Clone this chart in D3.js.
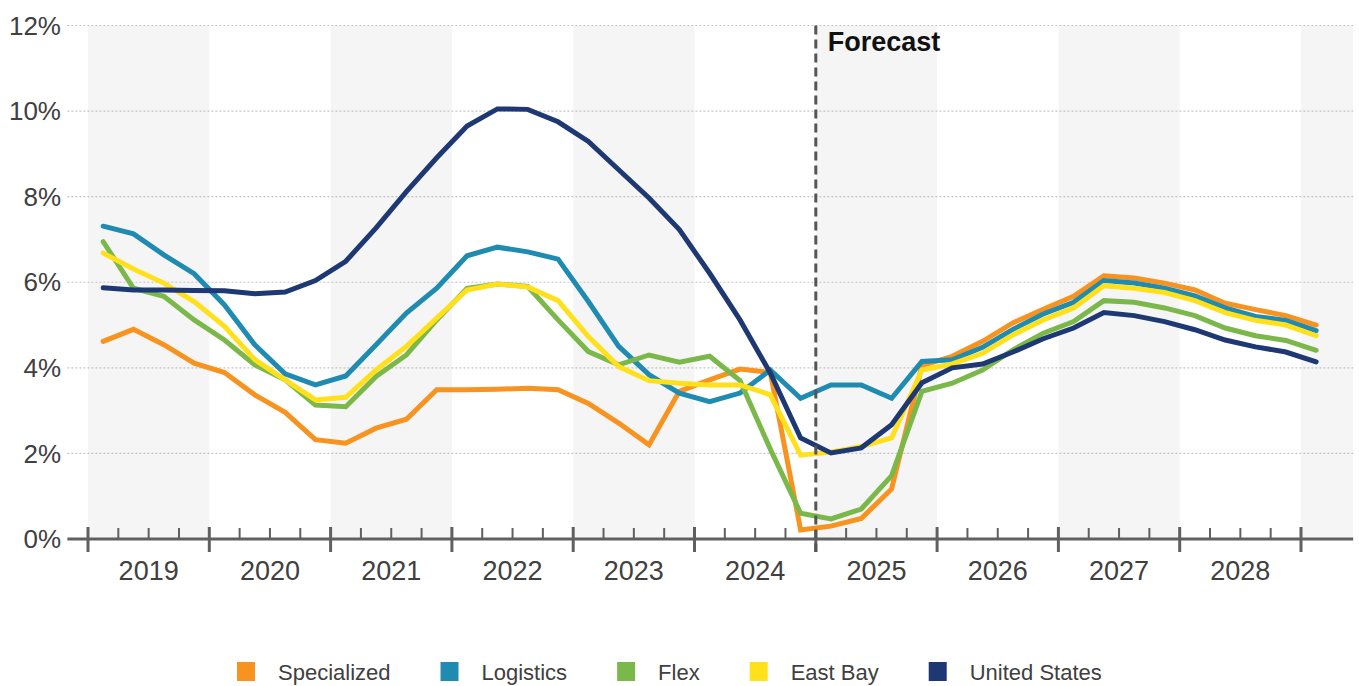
<!DOCTYPE html>
<html>
<head>
<meta charset="utf-8">
<script src="https://cdn.jsdelivr.net/npm/d3@7"></script>
<style>
  body { margin: 0; background: #fff; }
  svg text { font-family: "Liberation Sans", Arial, sans-serif; }
</style>
</head>
<body>
<svg id="chart" width="1359" height="686"></svg>
<script>
// quarterly vacancy, 2019 Q1 .. 2029 Q1
const years = [2019, 2020, 2021, 2022, 2023, 2024, 2025, 2026, 2027, 2028];
const yTicks = [0, 2, 4, 6, 8, 10, 12];
const forecastStart = 2025;

const specialized = [4.62, 4.90, 4.54, 4.11, 3.89, 3.37, 2.96, 2.32, 2.24, 2.59, 2.80, 3.49, 3.49, 3.50, 3.52, 3.49,
  3.17, 2.71, 2.20, 3.45, 3.72, 3.97, 3.89, 0.21, 0.30, 0.48, 1.17, 4.05, 4.27, 4.62, 5.05, 5.37, 5.67, 6.15,
  6.10, 5.98, 5.82, 5.51, 5.36, 5.22, 5.00];
const logistics = [7.31, 7.13, 6.64, 6.20, 5.47, 4.54, 3.86, 3.60, 3.81, 4.54, 5.28, 5.86, 6.62, 6.82, 6.71, 6.54,
  5.55, 4.50, 3.84, 3.41, 3.21, 3.41, 3.95, 3.29, 3.60, 3.60, 3.29, 4.15, 4.19, 4.48, 4.90, 5.26, 5.53, 6.04,
  5.98, 5.86, 5.68, 5.40, 5.20, 5.11, 4.87];
const flex = [6.95, 5.86, 5.67, 5.12, 4.65, 4.07, 3.72, 3.13, 3.09, 3.80, 4.30, 5.12, 5.86, 5.96, 5.90, 5.12,
  4.38, 4.07, 4.30, 4.13, 4.27, 3.70, 2.10, 0.60, 0.47, 0.70, 1.48, 3.45, 3.64, 3.95, 4.42, 4.81, 5.08, 5.57,
  5.53, 5.40, 5.22, 4.93, 4.75, 4.64, 4.41];
const eastBay = [6.68, 6.31, 5.98, 5.55, 4.97, 4.19, 3.72, 3.25, 3.31, 3.95, 4.50, 5.16, 5.82, 5.96, 5.89, 5.57,
  4.73, 4.03, 3.70, 3.64, 3.60, 3.60, 3.37, 1.96, 2.03, 2.16, 2.36, 3.95, 4.09, 4.34, 4.77, 5.12, 5.40, 5.92,
  5.86, 5.76, 5.57, 5.29, 5.11, 5.00, 4.75];
const unitedStates = [5.87, 5.82, 5.82, 5.81, 5.80, 5.73, 5.77, 6.04, 6.49, 7.27, 8.12, 8.91, 9.65, 10.05, 10.04, 9.75,
  9.29, 8.63, 7.97, 7.23, 6.21, 5.12, 3.88, 2.36, 2.01, 2.13, 2.67, 3.65, 4.00, 4.09, 4.37, 4.68, 4.93, 5.29,
  5.22, 5.08, 4.89, 4.65, 4.49, 4.37, 4.14];

const series = [
  { name: "Specialized", color: "#f7931e", values: specialized },
  { name: "Logistics", color: "#1f8bb0", values: logistics },
  { name: "Flex", color: "#7bb84a", values: flex },
  { name: "East Bay", color: "#ffe01a", values: eastBay },
  { name: "United States", color: "#1d3872", values: unitedStates }
];

const svg = d3.select("#chart");
const x = d3.scaleLinear().domain([2019, 2029]).range([88, 1301]);
const y = d3.scaleLinear().domain([0, 12]).range([539, 25.5]);
const xLeft = x(2018.83), xRight = x(2029.43);
const qx = i => x(years[0] + (i + 0.5) / 4);

// alternating year bands
const bandYears = years.concat([2029]).filter((d, i) => i % 2 === 0);
svg.append("g").selectAll("rect").data(bandYears).join("rect")
  .attr("x", d => x(d))
  .attr("width", d => Math.min(x(d + 1), xRight) - x(d))
  .attr("y", y(12))
  .attr("height", y(0) - y(12))
  .attr("fill", "#f5f5f5");

// gridlines
svg.append("g").selectAll("line").data(yTicks.filter(d => d > 0)).join("line")
  .attr("x1", xLeft).attr("x2", xRight)
  .attr("y1", d => y(d)).attr("y2", d => y(d))
  .attr("stroke", "#c4c4c4").attr("stroke-width", 1.2)
  .attr("stroke-dasharray", "2,2");

// y labels
svg.append("g").selectAll("text").data(yTicks).join("text")
  .attr("x", 61).attr("y", d => y(d))
  .attr("dy", "0.35em")
  .attr("text-anchor", "end")
  .attr("font-size", 26)
  .attr("fill", "#404040")
  .text(d => d + "%");

// x axis with quarter ticks
const axis = svg.append("g");
const quarterTicks = d3.range(0, 41).map(i => years[0] + i / 4);
axis.selectAll("line.minor").data(quarterTicks.filter(d => d % 1 !== 0)).join("line")
  .attr("class", "minor")
  .attr("x1", d => x(d)).attr("x2", d => x(d))
  .attr("y1", 528).attr("y2", 539)
  .attr("stroke", "#606060").attr("stroke-width", 2);
axis.selectAll("line.major").data(years.concat([2029])).join("line")
  .attr("class", "major")
  .attr("x1", d => x(d)).attr("x2", d => x(d))
  .attr("y1", 527).attr("y2", 552)
  .attr("stroke", "#606060").attr("stroke-width", 3);
axis.append("line")
  .attr("x1", xLeft).attr("x2", xRight)
  .attr("y1", 539).attr("y2", 539)
  .attr("stroke", "#606060").attr("stroke-width", 3);
axis.selectAll("text").data(years).join("text")
  .attr("x", d => x(d + 0.5)).attr("y", 580)
  .attr("text-anchor", "middle")
  .attr("font-size", 27)
  .attr("fill", "#404040")
  .text(d => d);

// lines
const line = d3.line().x((d, i) => qx(i)).y(d => y(d));
svg.append("g").selectAll("path").data(series).join("path")
  .attr("d", d => line(d.values))
  .attr("fill", "none")
  .attr("stroke", d => d.color)
  .attr("stroke-width", 5)
  .attr("stroke-linecap", "round");

// forecast marker
svg.append("line")
  .attr("x1", x(forecastStart)).attr("x2", x(forecastStart))
  .attr("y1", y(12)).attr("y2", 552)
  .attr("stroke", "#555").attr("stroke-width", 3)
  .attr("stroke-dasharray", "9,5");
svg.append("text")
  .attr("x", x(forecastStart) + 12).attr("y", 51)
  .attr("font-size", 27).attr("font-weight", "bold")
  .attr("fill", "#111")
  .text("Forecast");

// legend
const legend = svg.append("g").attr("transform", "translate(237,672)");
let lx = 0;
series.forEach(s => {
  const g = legend.append("g").attr("transform", `translate(${lx},0)`);
  g.append("rect").attr("x", 0).attr("y", -10).attr("width", 18).attr("height", 19).attr("fill", s.color);
  const t = g.append("text").attr("x", 41).attr("dy", "0.35em")
    .attr("font-size", 22).attr("fill", "#404040").text(s.name);
  lx += 41 + t.node().getComputedTextLength() + 50;
});
</script>
</body>
</html>
